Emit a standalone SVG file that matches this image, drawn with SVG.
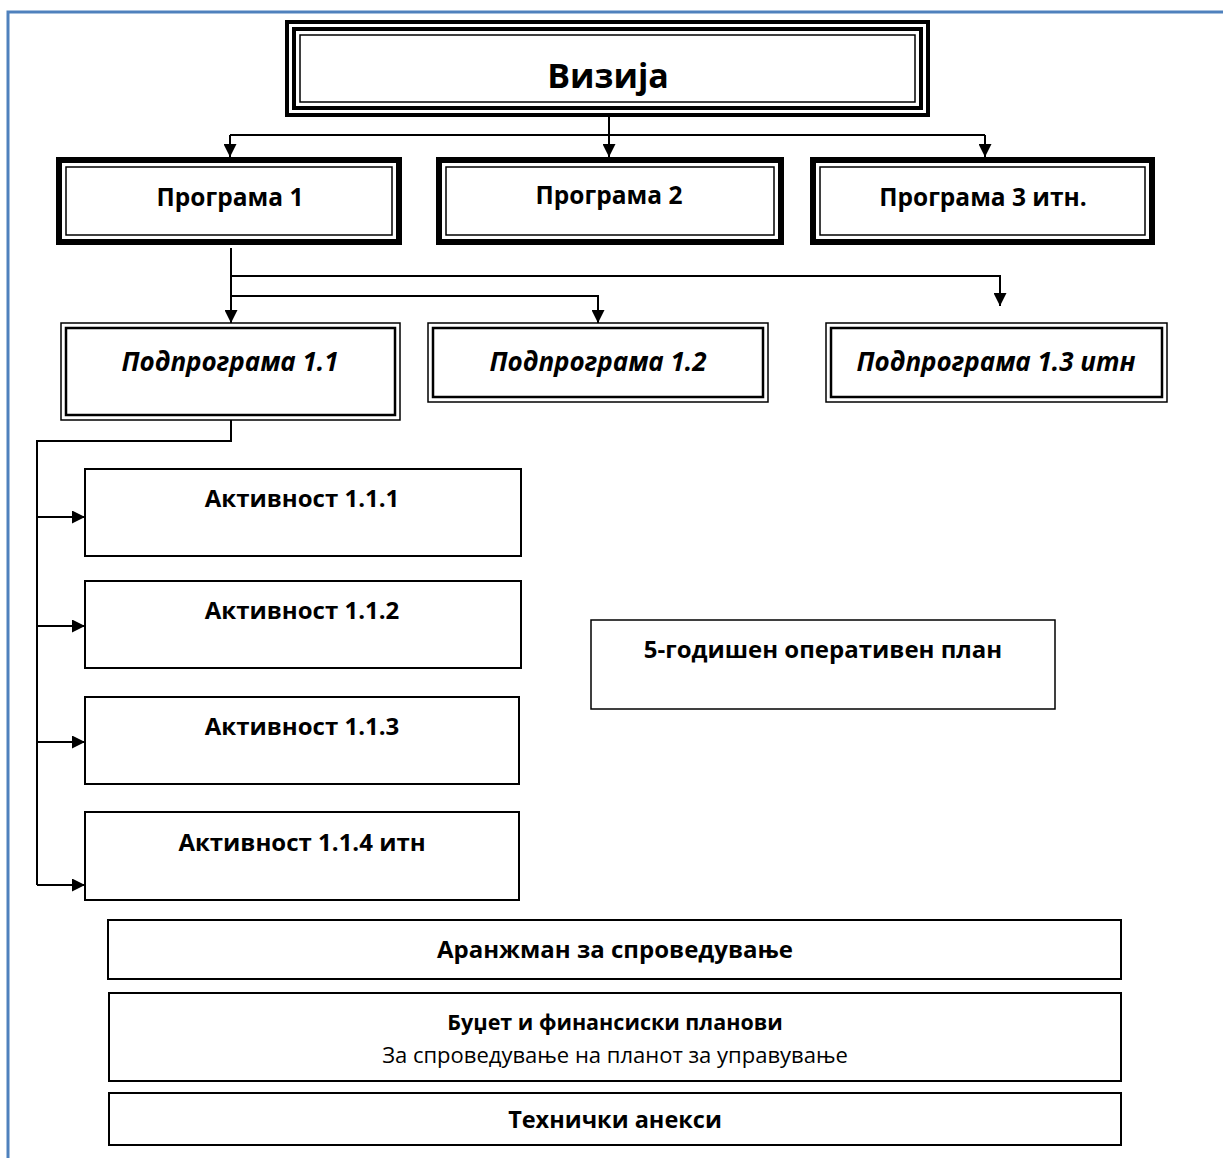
<svg xmlns="http://www.w3.org/2000/svg" width="1223" height="1158" viewBox="0 0 1223 1158">
<defs>
<style>
text{font-family:"Open Sans","Noto Sans","DejaVu Sans",sans-serif;fill:#000;text-anchor:middle}
.b{font-weight:bold}
.bi{font-weight:bold;font-style:italic}
.k{fill:none;stroke:#000}
.w{fill:#fff;stroke:#000}
.ln{fill:none;stroke:#000;stroke-width:2}
</style>
<marker id="ah" viewBox="0 0 13 13" refX="13" refY="6.5" markerWidth="13" markerHeight="13" markerUnits="userSpaceOnUse" orient="auto">
<path d="M0,0 L13,6.5 L0,13 Z" fill="#000"/>
</marker>
</defs>
<rect width="1223" height="1158" fill="#fff"/>
<path d="M8,1158 V12 H1223" fill="none" stroke="#4f81bd" stroke-width="3"/>

<g id="connectors">
<path class="ln" d="M609,117 V135"/>
<path class="ln" d="M230,135 H985"/>
<path class="ln" d="M230,135 V157" marker-end="url(#ah)"/>
<path class="ln" d="M609,135 V157" marker-end="url(#ah)"/>
<path class="ln" d="M985,135 V157" marker-end="url(#ah)"/>
<path class="ln" d="M231,248 V323" marker-end="url(#ah)"/>
<path class="ln" d="M231,276 H1000 V306" marker-end="url(#ah)"/>
<path class="ln" d="M231,296 H598 V323" marker-end="url(#ah)"/>
<path class="ln" d="M231,420 V441 H37 V885"/>
<path class="ln" d="M37,517 H85" marker-end="url(#ah)"/>
<path class="ln" d="M37,626 H85" marker-end="url(#ah)"/>
<path class="ln" d="M37,742 H85" marker-end="url(#ah)"/>
<path class="ln" d="M37,885 H85" marker-end="url(#ah)"/>
</g>

<g id="vizija">
<rect class="w" x="287" y="22" width="641" height="93" stroke-width="4"/>
<rect class="k" x="294" y="29" width="627" height="79" stroke-width="4"/>
<rect class="k" x="300" y="35" width="615" height="67" stroke-width="1.5"/>
<text class="b" x="608" y="88" font-size="34">Визија</text>
</g>

<g id="programa1">
<rect class="w" x="59" y="160" width="340" height="82" stroke-width="6"/>
<rect class="k" x="66" y="167" width="326" height="68" stroke-width="1.5"/>
<text class="b" x="230" y="206" font-size="24.5">Програма 1</text>
</g>
<g id="programa2">
<rect class="w" x="439" y="160" width="342" height="82" stroke-width="6"/>
<rect class="k" x="446" y="167" width="328" height="68" stroke-width="1.5"/>
<text class="b" x="609" y="204" font-size="24.5">Програма 2</text>
</g>
<g id="programa3">
<rect class="w" x="813" y="160" width="339" height="82" stroke-width="6"/>
<rect class="k" x="820" y="167" width="325" height="68" stroke-width="1.5"/>
<text class="b" x="983" y="206" font-size="24.5">Програма 3 итн.</text>
</g>

<g id="podprograma11">
<rect class="w" x="61" y="323" width="339" height="97" stroke-width="1.5"/>
<rect class="k" x="66" y="328" width="329" height="87" stroke-width="2.5"/>
<text class="bi" x="230" y="371" font-size="26">Подпрограма 1.1</text>
</g>
<g id="podprograma12">
<rect class="w" x="428" y="323" width="340" height="79" stroke-width="1.5"/>
<rect class="k" x="433" y="328" width="330" height="69" stroke-width="2.5"/>
<text class="bi" x="598" y="371" font-size="26">Подпрограма 1.2</text>
</g>
<g id="podprograma13">
<rect class="w" x="826" y="323" width="341" height="79" stroke-width="1.5"/>
<rect class="k" x="831" y="328" width="331" height="69" stroke-width="2.5"/>
<text class="bi" x="996" y="371" font-size="26">Подпрограма 1.3 итн</text>
</g>

<g id="aktivnost111">
<rect class="w" x="85" y="469" width="436" height="87" stroke-width="2"/>
<text class="b" x="302" y="507" font-size="24">Активност 1.1.1</text>
</g>
<g id="aktivnost112">
<rect class="w" x="85" y="581" width="436" height="87" stroke-width="2"/>
<text class="b" x="302" y="619" font-size="24">Активност 1.1.2</text>
</g>
<g id="aktivnost113">
<rect class="w" x="85" y="697" width="434" height="87" stroke-width="2"/>
<text class="b" x="302" y="735" font-size="24">Активност 1.1.3</text>
</g>
<g id="aktivnost114">
<rect class="w" x="85" y="812" width="434" height="88" stroke-width="2"/>
<text class="b" x="302" y="851" font-size="24">Активност 1.1.4 итн</text>
</g>

<g id="plan5">
<rect class="w" x="591" y="620" width="464" height="89" stroke-width="1.5"/>
<text class="b" x="823" y="658" font-size="24">5-годишен оперативен план</text>
</g>

<g id="aranzman">
<rect class="w" x="108" y="920" width="1013" height="59" stroke-width="2"/>
<text class="b" x="615" y="958" font-size="24">Аранжман за спроведување</text>
</g>
<g id="budzet">
<rect class="w" x="109" y="993" width="1012" height="88" stroke-width="2"/>
<text class="b" x="615" y="1030" font-size="21.5">Буџет и финансиски планови</text>
<text x="615" y="1063" font-size="22">За спроведување на планот за управување</text>
</g>
<g id="tehnicki">
<rect class="w" x="109" y="1093" width="1012" height="52" stroke-width="2"/>
<text class="b" x="615" y="1128" font-size="23.5">Технички анекси</text>
</g>
</svg>
